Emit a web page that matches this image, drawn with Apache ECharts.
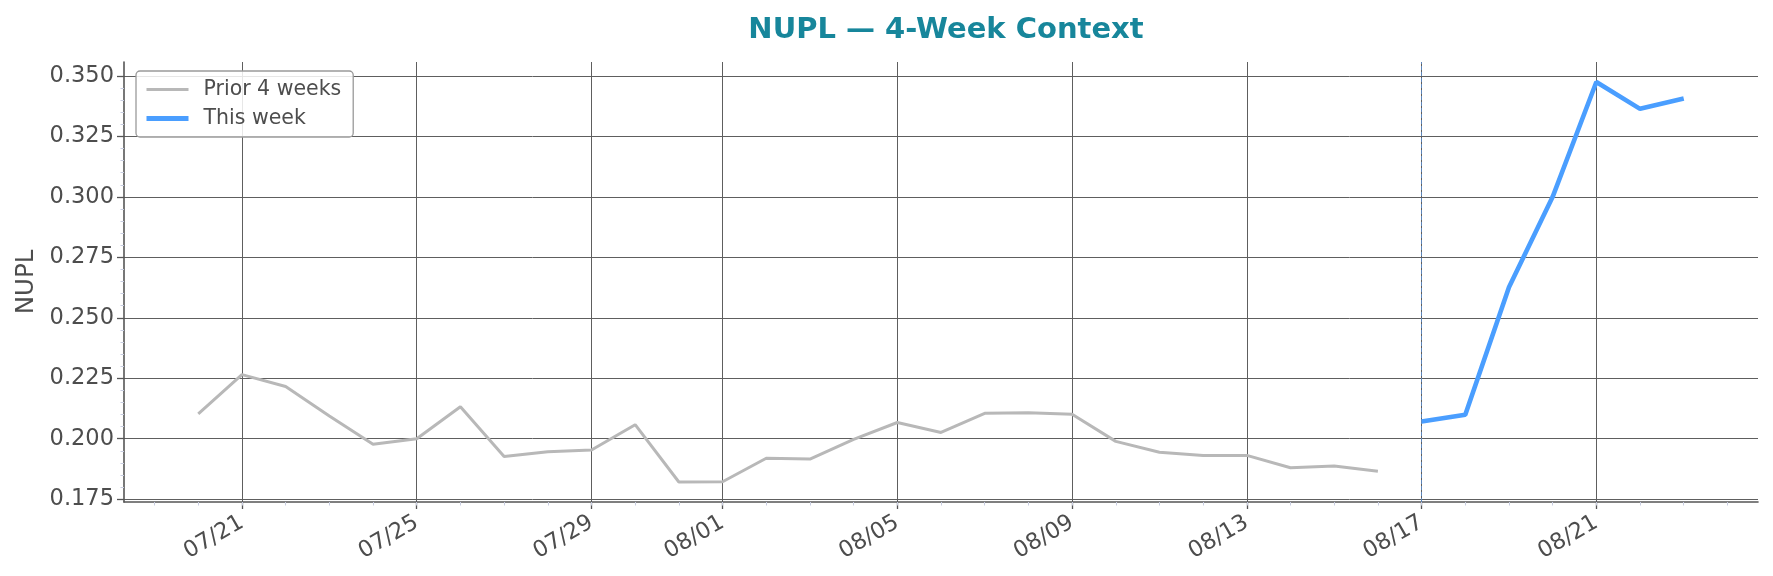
<!DOCTYPE html>
<html>
<head>
<meta charset="utf-8">
<script src="https://cdn.jsdelivr.net/npm/echarts@6/dist/echarts.min.js"></script>
<style>
html,body{margin:0;padding:0;background:#fff;}
#chart{width:1773px;height:576px;}
</style>
</head>
<body>
<div id="chart"></div>
<script>
// ---- data ----
const priorDates = ['2025-07-20','2025-07-21','2025-07-22','2025-07-23','2025-07-24','2025-07-25','2025-07-26','2025-07-27','2025-07-28','2025-07-29','2025-07-30','2025-07-31','2025-08-01','2025-08-02','2025-08-03','2025-08-04','2025-08-05','2025-08-06','2025-08-07','2025-08-08','2025-08-09','2025-08-10','2025-08-11','2025-08-12','2025-08-13','2025-08-14','2025-08-15','2025-08-16'];
const priorValues = [0.2103,0.2265,0.2216,0.2094,0.1977,0.2000,0.2132,0.1926,0.1946,0.1953,0.2058,0.1821,0.1822,0.1919,0.1916,0.1997,0.2067,0.2026,0.2105,0.2107,0.2101,0.1989,0.1944,0.1931,0.1931,0.1880,0.1887,0.1865];
const weekDates = ['2025-08-17','2025-08-18','2025-08-19','2025-08-20','2025-08-21','2025-08-22','2025-08-23'];
const weekValues = [0.2071,0.2099,0.2626,0.3000,0.3475,0.3364,0.3407];
const xTickDates = ['2025-07-21','2025-07-25','2025-07-29','2025-08-01','2025-08-05','2025-08-09','2025-08-13','2025-08-17','2025-08-21'];
const yTickValues = [0.175,0.200,0.225,0.250,0.275,0.300,0.325,0.350];
const yMinorValues = [0.180,0.185,0.190,0.195,0.205,0.210,0.215,0.220,0.230,0.235,0.240,0.245,0.255,0.260,0.265,0.270,0.280,0.285,0.290,0.295,0.305,0.310,0.315,0.320,0.330,0.335,0.340,0.345];
const splitDate = '2025-08-17';

// day number (days since 1970-01-01, UTC)
function dn(s){const p=s.split('-').map(Number);return Date.UTC(p[0],p[1]-1,p[2])/86400000;}
function fmt(v){const d=new Date(Math.round(v)*86400000);return String(d.getUTCMonth()+1).padStart(2,'0')+'/'+String(d.getUTCDate()).padStart(2,'0');}

const allDates = priorDates.concat(weekDates);
const allVals = priorValues.concat(weekValues);
const xFirst = dn(allDates[0]), xLast = dn(allDates[allDates.length-1]);
const xPad = (xLast - xFirst) * 0.05;
const xMin = xFirst - xPad, xMax = xLast + xPad;
const yLo = Math.min(...allVals), yHi = Math.max(...allVals);
const yPad = (yHi - yLo) * 0.05;
const yMin = yLo - yPad, yMax = yHi + yPad;
const dayTicks = [];
for (let t = Math.ceil(xMin); t <= xMax; t += 1) dayTicks.push(t);

const FONT = 'DejaVu Sans';
const TXT = '#4d4d4d';
const GRAY = '#b8b8b8', BLUE = '#4a9eff';
const GRID_L = 124, GRID_R = 15;
const chart = echarts.init(document.getElementById('chart'), null, {renderer:'canvas'});
chart.setOption({
  animation:false,
  backgroundColor:'#ffffff',
  textStyle:{fontFamily:FONT},
  title:{
    text:'NUPL \u2014 4-Week Context',
    left:GRID_L + (1773 - GRID_L - GRID_R) / 2, textAlign:'center', top:11,
    textStyle:{color:'#17869b', fontWeight:'bold', fontSize:29, fontFamily:FONT}
  },
  legend:{
    orient:'vertical',
    left:136, top:71,
    padding:[8,12,8,8],
    itemGap:8,
    itemWidth:42, itemHeight:14,
    backgroundColor:'rgba(255,255,255,0.85)',
    borderColor:'#9a9a9a', borderWidth:1.3, borderRadius:4,
    itemStyle:{opacity:0},
    textStyle:{color:TXT, fontSize:20.5, fontFamily:FONT, padding:[0,0,0,10]},
    data:[
      {name:'Prior 4 weeks', lineStyle:{color:GRAY, width:3}},
      {name:'This week', lineStyle:{color:BLUE, width:5}}
    ]
  },
  grid:{left:GRID_L, right:GRID_R, top:62, bottom:74},
  xAxis:[{
    type:'value', min:xMin, max:xMax,
    axisLine:{show:true, onZero:false, lineStyle:{color:'#555', width:1.6}},
    axisTick:{show:true, length:7, lineStyle:{color:'#555', width:1.3}, customValues:xTickDates.map(dn)},
    axisLabel:{customValues:xTickDates.map(dn), formatter:fmt, rotate:30, color:TXT, fontSize:22.5, fontFamily:FONT, margin:19, hideOverlap:false, showMinLabel:true, showMaxLabel:true},
    splitLine:{show:true, lineStyle:{color:'#5e5e5e', width:1}}
  },{
    type:'value', min:xMin, max:xMax, position:'bottom',
    axisLine:{show:false},
    axisTick:{show:true, length:3.5, lineStyle:{color:'#c8cde0', width:1}, customValues:dayTicks},
    axisLabel:{show:false},
    splitLine:{show:false}
  }],
  yAxis:[{
    type:'value', min:yMin, max:yMax,
    name:'NUPL', nameLocation:'middle', nameGap:82, nameRotate:90,
    nameTextStyle:{color:TXT, fontSize:24.5, fontFamily:FONT},
    axisLine:{show:true, onZero:false, lineStyle:{color:'#555', width:1.6}},
    axisTick:{show:true, length:7, lineStyle:{color:'#555', width:1.3}, customValues:yTickValues},
    axisLabel:{customValues:yTickValues, formatter:v=>v.toFixed(3), color:TXT, fontSize:22.5, fontFamily:FONT, margin:10},
    splitLine:{show:true, lineStyle:{color:'#5e5e5e', width:1}}
  },{
    type:'value', min:yMin, max:yMax, position:'left',
    axisLine:{show:false},
    axisTick:{show:true, length:3.5, lineStyle:{color:'#c8cde0', width:1}, customValues:yMinorValues},
    axisLabel:{show:false},
    splitLine:{show:false}
  }],
  series:[{
    name:'Prior 4 weeks', type:'line',
    data:priorDates.map((d,i)=>[dn(d), priorValues[i]]),
    symbol:'none', lineStyle:{color:GRAY, width:3}, itemStyle:{color:GRAY}, z:3
  },{
    name:'This week', type:'line',
    data:weekDates.map((d,i)=>[dn(d), weekValues[i]]),
    symbol:'none', lineStyle:{color:BLUE, width:4.6}, itemStyle:{color:BLUE}, z:4,
    markLine:{
      silent:true, symbol:'none', label:{show:false},
      lineStyle:{color:'#5b8fd0', type:'dashed', width:1, opacity:0.8},
      data:[{xAxis:dn(splitDate)}]
    }
  }]
});
</script>
</body>
</html>
